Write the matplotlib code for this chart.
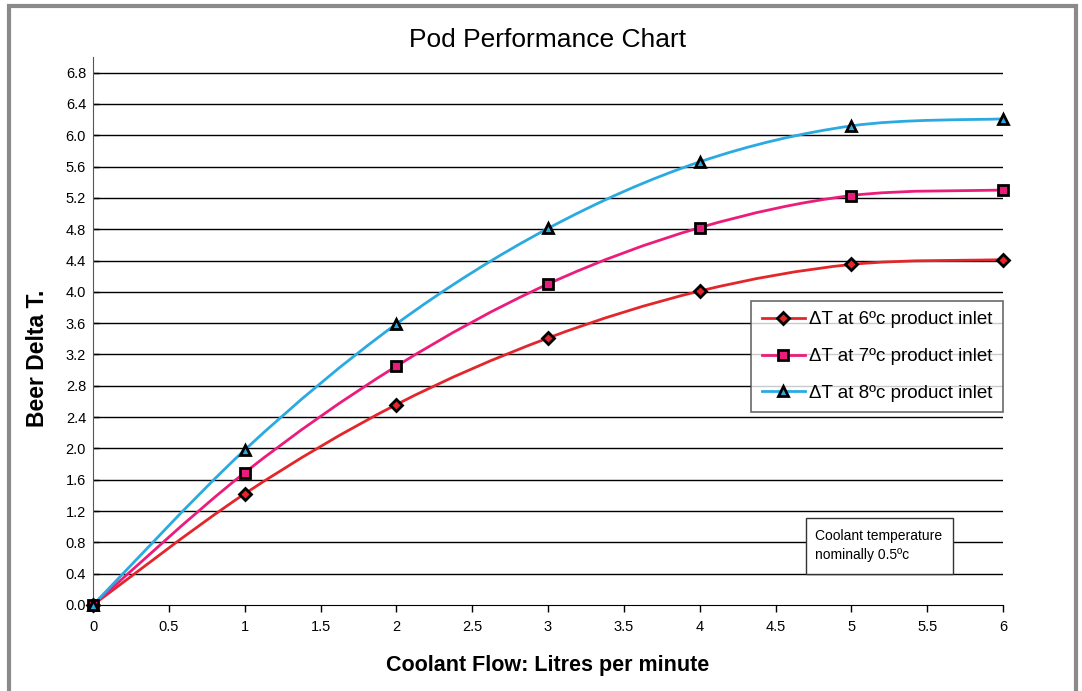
import matplotlib
matplotlib.use("Agg")
import matplotlib.pyplot as plt
import numpy as np
from matplotlib.path import Path
from matplotlib.patches import PathPatch, Rectangle
from matplotlib.lines import Line2D

plt.rcParams['font.family'] = ['Liberation Sans', 'DejaVu Sans']

flow = [0, 1, 2, 3, 4, 5, 6]
dt6 = [0, 1.42, 2.56, 3.41, 4.01, 4.35, 4.41]
dt7 = [0, 1.69, 3.05, 4.10, 4.82, 5.23, 5.30]
dt8 = [0, 1.98, 3.59, 4.81, 5.66, 6.12, 6.21]
labels = ['ΔT at 6ºc product inlet', 'ΔT at 7ºc product inlet', 'ΔT at 8ºc product inlet']
colors = ['#E3262B', '#EC1C7C', '#2AAAE1']
markers = ['D', 's', '^']
msizes = [6.5, 7.5, 7.5]
yticks = [round(0.4 * i, 1) for i in range(18)]
xticks = [0.5 * i for i in range(13)]

fig = plt.figure(figsize=(10.82, 6.91), dpi=100)
W, H = 1082, 691
ax = fig.add_axes([93 / W, 1 - 605 / H, 910 / W, 548 / H])

# outer frame
fig.patches.append(Rectangle((9 / W, -0.1), (1076 - 9) / W, 1.1 - 6 / H, transform=fig.transFigure,
                             fill=False, edgecolor='#8a8a8a', linewidth=3, zorder=0))

ax.set_xlim(0, 6)
ax.set_ylim(0, 7.0)
for y in yticks[1:]:
    ax.axhline(y, color='black', linewidth=1.0, zorder=1)


def smooth_path(xs, ys):
    pts = np.column_stack([xs, ys]).astype(float)
    n = len(pts)
    verts = [pts[0]]
    codes = [Path.MOVETO]
    for i in range(n - 1):
        p0 = pts[i - 1] if i > 0 else pts[i]
        p1 = pts[i]
        p2 = pts[i + 1]
        p3 = pts[i + 2] if i + 2 < n else pts[i + 1]
        c1 = p1 + (p2 - p0) / 6.0
        c2 = p2 - (p3 - p1) / 6.0
        verts += [c1, c2, p2]
        codes += [Path.CURVE4] * 3
    return Path(verts, codes)


handles = []
for ys, c, m, ms, lab in zip([dt6, dt7, dt8], colors, markers, msizes, labels):
    patch = PathPatch(smooth_path(flow, ys), facecolor='none', edgecolor=c, linewidth=2.0, zorder=3)
    ax.add_patch(patch)
    ax.plot(flow, ys, linestyle='none', marker=m, markersize=ms, markerfacecolor=c,
            markeredgecolor='black', markeredgewidth=2.0, zorder=4, clip_on=False)
    handles.append(Line2D([0], [0], color=c, linewidth=2.0, marker=m, markersize=ms,
                          markerfacecolor=c, markeredgecolor='black', markeredgewidth=2.0))

ax.set_xticks(xticks)
ax.set_xticklabels(['%g' % x for x in xticks], fontsize=10.5)
ax.set_yticks(yticks)
ax.set_yticklabels(['%.1f' % y for y in yticks], fontsize=10.5)
ax.tick_params(axis='x', direction='out', length=5, width=1, pad=6)
ax.tick_params(axis='y', direction='in', length=4, width=1, pad=5)
for s in ['top', 'right']:
    ax.spines[s].set_visible(False)
ax.spines['left'].set_color('#555555')
ax.spines['bottom'].set_color('black')

ax.set_title('Pod Performance Chart', fontsize=19, pad=7)
ax.set_xlabel('Coolant Flow: Litres per minute', fontsize=15.5, fontweight='bold', labelpad=15)
ax.set_ylabel('Beer Delta T.', fontsize=16.5, fontweight='bold')
ax.yaxis.set_label_coords(-0.048, 0.45)

leg = ax.legend(handles=handles, labels=labels, loc='upper right', bbox_to_anchor=(1.0, 0.555),
                fontsize=13.5, frameon=True, fancybox=False, edgecolor='#444444',
                handlelength=2.3, handletextpad=0.25, labelspacing=1.05, borderpad=0.55,
                borderaxespad=0.0)
leg.get_frame().set_linewidth(1.2)
leg.set_zorder(5)

ax.add_patch(Rectangle((4.70, 0.40), 0.97, 0.71, facecolor='white', edgecolor='#333333',
                       linewidth=1.0, zorder=5))
ax.text(4.76, 0.755, 'Coolant temperature\nnominally 0.5ºc', fontsize=10, va='center', ha='left',
        linespacing=1.45, zorder=6)

fig.savefig('out.png', dpi=100)
